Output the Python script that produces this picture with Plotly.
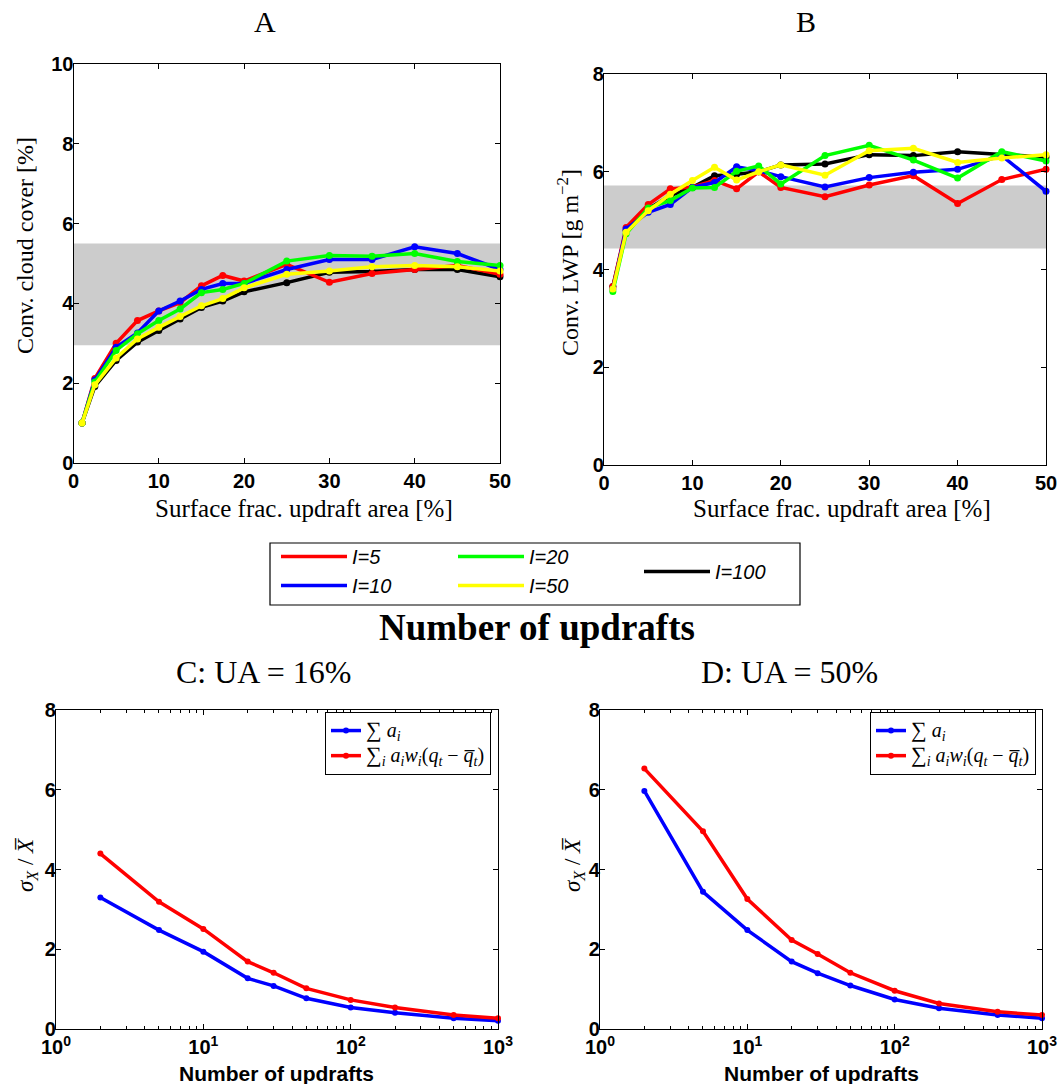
import plotly.graph_objects as go

# ---------------- data ----------------
ua_pct = [1, 2.5, 5, 7.5, 10, 12.5, 15, 17.5, 20, 25, 30, 35, 40, 45, 50]

cc_I5   = [1.0, 2.12, 3.00, 3.57, 3.81, 4.02, 4.44, 4.70, 4.56, 4.98, 4.53, 4.75, 4.85, 4.95, 4.73]
cc_I10  = [1.0, 2.08, 2.90, 3.26, 3.81, 4.06, 4.35, 4.50, 4.50, 4.85, 5.10, 5.10, 5.42, 5.25, 4.85]
cc_I20  = [1.0, 2.03, 2.82, 3.24, 3.57, 3.86, 4.27, 4.35, 4.50, 5.06, 5.20, 5.18, 5.25, 5.05, 4.95]
cc_I50  = [1.0, 1.96, 2.63, 3.11, 3.40, 3.67, 3.94, 4.12, 4.39, 4.73, 4.81, 4.92, 4.95, 4.92, 4.81]
cc_I100 = [1.0, 1.92, 2.57, 3.03, 3.32, 3.61, 3.90, 4.06, 4.29, 4.52, 4.78, 4.80, 4.85, 4.85, 4.67]

lwp_I5   = [3.65, 4.86, 5.33, 5.65, 5.69, 5.82, 5.65, 6.00, 5.68, 5.49, 5.73, 5.92, 5.35, 5.84, 6.05]
lwp_I10  = [3.60, 4.83, 5.17, 5.33, 5.68, 5.78, 6.10, 6.02, 5.90, 5.69, 5.88, 5.99, 6.05, 6.33, 5.60]
lwp_I20  = [3.55, 4.73, 5.26, 5.41, 5.67, 5.68, 6.01, 6.12, 5.75, 6.33, 6.54, 6.24, 5.87, 6.41, 6.22]
lwp_I50  = [3.60, 4.76, 5.20, 5.54, 5.82, 6.09, 5.83, 6.00, 6.14, 5.93, 6.43, 6.48, 6.19, 6.28, 6.35]
lwp_I100 = [3.65, 4.80, 5.24, 5.51, 5.68, 5.92, 5.95, 6.00, 6.14, 6.16, 6.35, 6.33, 6.41, 6.35, 6.30]

band_cc = [2.95, 5.50]
band_lwp = [4.43, 5.72]

n_updrafts = [2, 5, 10, 20, 30, 50, 100, 200, 500, 1000]
c_sum_a  = [3.30, 2.48, 1.94, 1.27, 1.08, 0.77, 0.54, 0.41, 0.27, 0.21]
c_sum_aw = [4.40, 3.19, 2.51, 1.69, 1.41, 1.02, 0.73, 0.54, 0.35, 0.27]
d_sum_a  = [5.97, 3.44, 2.48, 1.69, 1.40, 1.09, 0.74, 0.52, 0.35, 0.27]
d_sum_aw = [6.53, 4.96, 3.26, 2.23, 1.88, 1.41, 0.96, 0.64, 0.43, 0.35]

I_labels = ["I=5", "I=10", "I=20", "I=50", "I=100"]
I_colors = ["#ff0000", "#0000ff", "#00ff00", "#ffff00", "#000000"]

# ---------------- figure ----------------
W, H = 1060, 1084
def px(x):
    return x / W
def py(y):
    return 1 - y / H

fig = go.Figure()

cc_series = [cc_I5, cc_I10, cc_I20, cc_I50, cc_I100]
lwp_series = [lwp_I5, lwp_I10, lwp_I20, lwp_I50, lwp_I100]
draw_order = [4, 0, 1, 2, 3]

for i in draw_order:
    fig.add_trace(go.Scatter(x=ua_pct, y=cc_series[i], mode="lines+markers",
                             line=dict(color=I_colors[i], width=3.5),
                             marker=dict(color=I_colors[i], size=7),
                             cliponaxis=False, showlegend=False,
                             xaxis="x", yaxis="y"))
for i in draw_order:
    fig.add_trace(go.Scatter(x=ua_pct, y=lwp_series[i], mode="lines+markers",
                             line=dict(color=I_colors[i], width=3.5),
                             marker=dict(color=I_colors[i], size=7),
                             cliponaxis=False, showlegend=False,
                             xaxis="x2", yaxis="y2"))

# legend-only entries (line samples without markers)
legend_of = {0: "legend", 1: "legend", 2: "legend2", 3: "legend2", 4: "legend3"}
for i in range(5):
    fig.add_trace(go.Scatter(x=[None], y=[None], mode="lines",
                             line=dict(color=I_colors[i], width=3.5),
                             name=I_labels[i], legend=legend_of[i],
                             xaxis="x", yaxis="y"))

big = "<span style='font-size:22px'>\u2211</span>"
lab_a = ("<span style='font-size:20px'>" + big + " <i>a<sub>i</sub></i></span>")
lab_aw = ("<span style='font-size:20px'>" + big +
          "<sub><i>i</i></sub> <i>a<sub>i</sub>w<sub>i</sub></i>(<i>q<sub>t</sub></i> "
          "\u2212 <i>q\u0305<sub>t</sub></i>)</span>")

for xa, ya, sa, saw, lg in [("x3", "y3", c_sum_a, c_sum_aw, "legend4"),
                            ("x4", "y4", d_sum_a, d_sum_aw, "legend5")]:
    fig.add_trace(go.Scatter(x=n_updrafts, y=sa, mode="lines+markers",
                             line=dict(color="#0000ff", width=3.5),
                             marker=dict(color="#0000ff", size=6),
                             cliponaxis=False, name=lab_a, legend=lg,
                             xaxis=xa, yaxis=ya))
    fig.add_trace(go.Scatter(x=n_updrafts, y=saw, mode="lines+markers",
                             line=dict(color="#ff0000", width=3.5),
                             marker=dict(color="#ff0000", size=6),
                             cliponaxis=False, name=lab_aw, legend=lg,
                             xaxis=xa, yaxis=ya))

tickfont = dict(family="Liberation Sans", size=20, color="black", weight="bold")
common = dict(showline=True, linecolor="black", linewidth=1.2, mirror="ticks",
              ticks="inside", ticklen=5, tickcolor="black", tickwidth=1,
              showgrid=False, zeroline=False, tickfont=tickfont,
              automargin=False)
ycommon = dict(common, ticklabelstandoff=-5)

minor_vals = [v * m for v in (1, 10, 100) for m in range(2, 10)]
log_common = dict(common, type="log", range=[0, 3],
                  tickvals=[1, 10, 100, 1000],
                  ticktext=["10<sup>0</sup>", "10<sup>1</sup>", "10<sup>2</sup>", "10<sup>3</sup>"],
                  minor=dict(tickmode="array", tickvals=minor_vals, ticks="inside",
                             ticklen=3, tickcolor="black", showgrid=False))

fig.update_layout(
    width=W, height=H, margin=dict(l=0, r=0, t=0, b=0, pad=0, autoexpand=False),
    paper_bgcolor="white", plot_bgcolor="white",
    xaxis=dict(common, domain=[px(73.5), px(500)], range=[0, 50],
               tickvals=[0, 10, 20, 30, 40, 50], anchor="y"),
    yaxis=dict(ycommon, domain=[py(463), py(64)], range=[0, 10],
               tickvals=[0, 2, 4, 6, 8, 10], anchor="x"),
    xaxis2=dict(common, domain=[px(604), px(1046)], range=[0, 50],
                tickvals=[0, 10, 20, 30, 40, 50], anchor="y2"),
    yaxis2=dict(ycommon, domain=[py(465), py(74)], range=[0, 8],
                tickvals=[0, 2, 4, 6, 8], anchor="x2"),
    xaxis3=dict(log_common, domain=[px(56), px(498)], anchor="y3"),
    yaxis3=dict(ycommon, domain=[py(1029), py(710)], range=[0, 8],
                tickvals=[0, 2, 4, 6, 8], anchor="x3"),
    xaxis4=dict(log_common, domain=[px(600), px(1042)], anchor="y4"),
    yaxis4=dict(ycommon, domain=[py(1029), py(710)], range=[0, 8],
                tickvals=[0, 2, 4, 6, 8], anchor="x4"),
)

leg_font = dict(family="Liberation Sans", size=20, color="black", style="italic")
leg_base = dict(orientation="v", bgcolor="rgba(0,0,0,0)", borderwidth=0,
                font=leg_font, xanchor="left", yanchor="top", tracegroupgap=0,
                itemwidth=66)
math_font = dict(family="Liberation Serif", size=17, color="black")
fig.update_layout(
    legend=dict(leg_base, x=px(276), y=py(537)),
    legend2=dict(leg_base, x=px(453), y=py(537)),
    legend3=dict(leg_base, x=px(639), y=py(552)),
    legend4=dict(x=px(491), y=py(712), xanchor="right", yanchor="top",
                 bgcolor="white", bordercolor="black", borderwidth=1,
                 font=math_font, tracegroupgap=0, itemwidth=30),
    legend5=dict(x=px(1036), y=py(712), xanchor="right", yanchor="top",
                 bgcolor="white", bordercolor="black", borderwidth=1,
                 font=math_font, tracegroupgap=0, itemwidth=30),
)

# gray reference bands and legend frame
fig.add_shape(type="rect", xref="x domain", yref="y", x0=0, x1=1,
              y0=band_cc[0], y1=band_cc[1], fillcolor="#cccccc",
              line=dict(width=0), layer="below")
fig.add_shape(type="rect", xref="x2 domain", yref="y2", x0=0, x1=1,
              y0=band_lwp[0], y1=band_lwp[1], fillcolor="#cccccc",
              line=dict(width=0), layer="below")
fig.add_shape(type="rect", xref="paper", yref="paper",
              x0=px(270), x1=px(800), y0=py(605), y1=py(543),
              line=dict(color="black", width=1.2), fillcolor="rgba(0,0,0,0)")

serif = "Liberation Serif"
def ann(text, x, y, size, family=serif, angle=0, weight="normal"):
    fig.add_annotation(text=text, x=px(x), y=py(y), xref="paper", yref="paper",
                       showarrow=False, textangle=angle, xanchor="center",
                       yanchor="middle",
                       font=dict(family=family, size=size, color="black",
                                 weight=weight))

ann("A", 265, 22, 30)
ann("B", 806, 22, 30)
ann("C: UA = 16%", 263, 672, 32)
ann("D: UA = 50%", 790, 672, 32)
ann("Surface frac. updraft area [%]", 304, 508, 25)
ann("Surface frac. updraft area [%]", 842, 508, 25)
ann("Conv. cloud cover [%]", 25, 246, 24, angle=-90)
ann("Conv. LWP [g m<sup>\u22122</sup>]", 568, 263, 24, angle=-90)
ann("Number of updrafts", 537, 627, 37, weight="bold")
ann("Number of updrafts", 276, 1073, 21, family="Liberation Sans", weight="bold")
ann("Number of updrafts", 821, 1073, 21, family="Liberation Sans", weight="bold")
ann("<i>\u03c3<sub>X</sub></i> / <i>X\u0305</i>", 27, 865, 23, angle=-90)
ann("<i>\u03c3<sub>X</sub></i> / <i>X\u0305</i>", 574, 865, 23, angle=-90)

fig.write_html("out.html", config={"displayModeBar": False},
               post_script="document.body.style.margin='0px';")
